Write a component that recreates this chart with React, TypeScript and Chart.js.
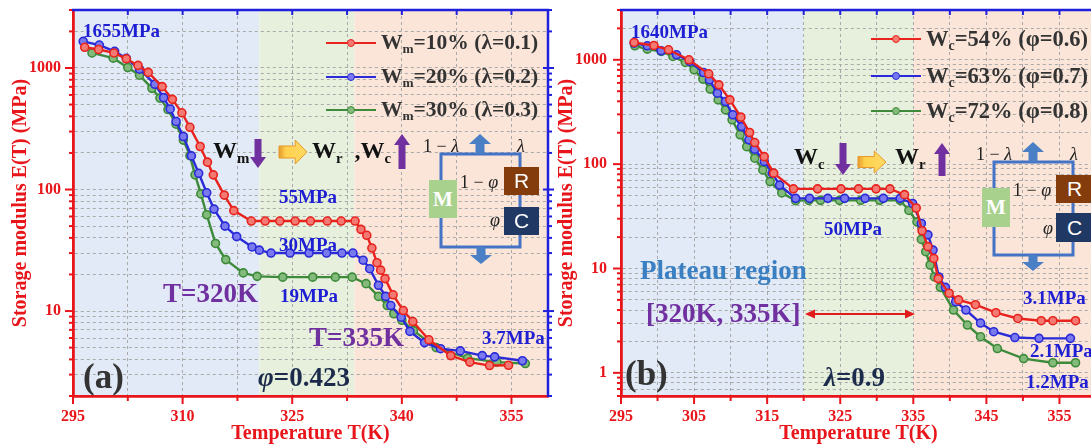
import React, { useEffect, useRef } from "react";
import { Chart, registerables } from "chart.js";
Chart.register(...registerables);

// ---------------- data: panel (a) ----------------
const T_A10 = [296.6, 298.5, 300.6, 302.3, 303.9, 305.3, 307.2, 308.6, 309.9, 311.0, 312.4, 313.4, 314.2, 315.7, 317.0, 319.4, 321.3, 323.3, 325.4, 327.5, 329.8, 331.7, 333.6, 334.4, 335.2, 335.9, 336.6, 337.1, 337.7, 338.8, 340.2, 341.5, 343.7, 346.7, 349.3, 352.0, 354.6];
const E_A10 = [1480, 1420, 1330, 1190, 1050, 920, 703, 552, 428, 325, 226, 168, 132, 90, 67, 55, 55, 55, 55, 55, 55, 55, 55, 47, 42, 33, 25, 21.7, 18.5, 13.6, 10.1, 8.2, 5.8, 4.3, 3.8, 3.56, 3.58];
const T_A20 = [296.4, 298.6, 300.7, 302.3, 304.1, 306.2, 307.4, 308.3, 309.1, 310.1, 311.2, 312.2, 313.3, 314.3, 315.8, 317.4, 319.5, 320.5, 322.1, 324.7, 327.3, 329.7, 331.8, 333.3, 334.7, 335.6, 336.8, 337.8, 338.5, 339.9, 341.1, 343.1, 345.3, 348.0, 351.0, 352.7, 356.5];
const E_A20 = [1655, 1544, 1370, 1199, 977, 735, 570, 460, 363, 273, 189, 136, 94, 69, 50, 41, 33.7, 31.7, 30, 30, 30, 30, 30, 30, 26.2, 22.3, 16.3, 13.2, 11.1, 8.9, 6.8, 5.5, 4.9, 4.7, 4.3, 4.2, 3.9];
const T_A30 = [297.6, 300.5, 302.5, 304.1, 305.8, 306.9, 308.0, 309.1, 310.1, 311.0, 311.7, 312.5, 313.3, 314.5, 315.9, 318.3, 320.2, 323.7, 327.8, 330.9, 333.2, 335.1, 336.8, 338.0, 338.9, 340.0, 341.6, 344.7, 349.0, 353.0, 356.9];
const E_A30 = [1330, 1205, 1009, 872, 680, 565, 455, 345, 255, 190, 132, 92, 62, 36, 26.5, 20.6, 19.3, 19, 19, 19, 19, 16.8, 13.2, 11.1, 9.5, 8.4, 6.9, 5.0, 4.1, 3.8, 3.7];

// ---------------- data: panel (b) ----------------
const T_B54 = [296.8, 299.5, 301.5, 304.3, 307.0, 308.4, 309.9, 311.4, 312.6, 313.3, 314.6, 315.9, 318.6, 321.9, 325.1, 327.5, 329.9, 331.8, 333.8, 335.4, 336.2, 337.0, 337.8, 338.4, 339.9, 341.2, 343.5, 346.3, 349.3, 352.5, 354.1, 357.2];
const E_B54 = [1466, 1372, 1247, 1000, 734, 575, 413, 282, 201, 161, 118, 82, 58, 58, 58, 58, 58, 58, 51, 38, 23, 16.2, 12.5, 8.0, 5.8, 5.0, 4.5, 3.77, 3.32, 3.16, 3.16, 3.16];
const T_B63 = [296.8, 298.6, 300.5, 302.6, 304.4, 306.3, 307.1, 308.2, 309.3, 310.3, 311.5, 312.5, 313.3, 314.6, 315.7, 316.7, 318.9, 320.8, 323.3, 325.6, 328.4, 330.9, 333.2, 334.9, 336.1, 337.0, 337.7, 338.5, 339.4, 340.8, 342.2, 344.2, 346.0, 348.9, 352.2, 356.5];
const E_B63 = [1445, 1361, 1219, 1117, 964, 755, 643, 479, 398, 297, 229, 171, 139, 106, 82, 63, 47, 47, 47, 47, 47, 47, 47, 42, 27, 21, 15, 8.3, 6.6, 4.8, 4.0, 3.0, 2.48, 2.18, 2.14, 2.14];
const T_B72 = [296.9, 298.6, 300.5, 302.1, 303.8, 305.0, 306.2, 307.2, 308.3, 309.3, 310.2, 311.3, 312.2, 313.3, 314.4, 315.4, 317.0, 318.9, 320.7, 322.3, 324.9, 327.8, 330.4, 333.2, 334.4, 335.5, 336.1, 336.7, 337.3, 337.9, 338.7, 340.5, 342.4, 344.2, 346.5, 350.1, 354.1, 357.2];
const E_B72 = [1362, 1265, 1202, 1077, 943, 801, 653, 524, 413, 331, 266, 191, 147, 114, 88, 68, 53, 44.7, 45, 45, 45, 45, 45, 45, 36, 28, 19, 14.5, 10.8, 8.3, 6.6, 4.0, 2.87, 2.22, 1.71, 1.37, 1.25, 1.25];

// ---------------- ticks ----------------
const X_GRID_A = [295, 302.5, 310, 317.5, 325, 332.5, 340, 347.5, 355];
const X_LABELS_A = [295, 310, 325, 340, 355];
const X_GRID_B = [295, 300, 305, 310, 315, 320, 325, 330, 335, 340, 345, 350, 355];
const X_LABELS_B = [295, 305, 315, 325, 335, 345, 355];
const Y_TICKS_A = [2, 3, 4, 5, 6, 7, 8, 9, 10, 20, 30, 40, 50, 60, 70, 80, 90, 100, 200, 300, 400, 500, 600, 700, 800, 900, 1000, 2000, 3000];
const Y_LABELS_A = [10, 100, 1000];
const Y_TICKS_B = [0.6, 0.7, 0.8, 0.9, 1, 2, 3, 4, 5, 6, 7, 8, 9, 10, 20, 30, 40, 50, 60, 70, 80, 90, 100, 200, 300, 400, 500, 600, 700, 800, 900, 1000, 2000, 3000];
const Y_LABELS_B = [1, 10, 100, 1000];
const BANDS_A = [320.5, 333.5];
const BANDS_B = [320, 335];

const SERIF = '"Liberation Serif", "Times New Roman", serif';
const SANS = '"Liberation Sans", Arial, sans-serif';
const RED_AX = "#e8161b";
const BLUE_AX = "#2020dc";
const C_RED = "#e8231e";
const C_BLUE = "#2a2ad8";
const C_GREEN = "#3d8b3a";
const F_RED = "#f27a72";
const F_BLUE = "#7a7aee";
const F_GREEN = "#84bb7c";
const LBL_BLUE = "#1e1ed2";
const PURPLE = "#7030a0";
const NAVY = "#1c2b4c";

const near = (arr: number[], v: number) => arr.some((a) => Math.abs(a - v) <= Math.abs(a) * 1e-6 + 1e-9);

type Panel = {
  series: { t: number[]; e: number[]; color: string; fill: string }[];
  xGrid: number[];
  xLabels: number[];
  yTicks: number[];
  yLabels: number[];
  yMin: number;
  yMax: number;
  bands: number[];
  yWidth: number;
  padRight: number;
  yPad: number;
};

function makeDeco(p: Panel) {
  return {
    id: "deco",
    beforeDraw(chart: any) {
      const { ctx, chartArea: ca, scales } = chart;
      const x = scales.x;
      const p1 = x.getPixelForValue(p.bands[0]);
      const p2 = x.getPixelForValue(p.bands[1]);
      const h = ca.bottom - ca.top;
      ctx.save();
      ctx.fillStyle = "#e1eaf6";
      ctx.fillRect(ca.left, ca.top, p1 - ca.left, h);
      ctx.fillStyle = "#e6f0dc";
      ctx.fillRect(p1, ca.top, p2 - p1, h);
      ctx.fillStyle = "#fbe5d9";
      ctx.fillRect(p2, ca.top, ca.right - p2, h);
      ctx.restore();
    },
    afterDraw(chart: any) {
      const { ctx, chartArea: ca, scales } = chart;
      const x = scales.x;
      const y = scales.y;
      const line = (a: number, b: number, c: number, d: number) => {
        ctx.beginPath();
        ctx.moveTo(a, b);
        ctx.lineTo(c, d);
        ctx.stroke();
      };
      ctx.save();
      ctx.strokeStyle = RED_AX;
      ctx.lineWidth = 2;
      for (const v of p.xGrid) {
        const px = x.getPixelForValue(v);
        line(px, ca.bottom, px, ca.bottom + (near(p.xLabels, v) ? 8 : 5));
      }
      for (const v of p.yTicks) {
        const py = y.getPixelForValue(v);
        line(ca.left - (near(p.yLabels, v) ? 8 : 4), py, ca.left, py);
      }
      ctx.strokeStyle = BLUE_AX;
      ctx.lineWidth = 2.5;
      line(ca.left - 1, ca.top, ca.right + 1, ca.top);
      line(ca.right, ca.top, ca.right, ca.bottom + 1);
      ctx.lineWidth = 2;
      for (const v of p.xGrid) {
        if (v === p.xGrid[0]) continue;
        const px = x.getPixelForValue(v);
        line(px, ca.top, px, ca.top + 5);
      }
      for (const v of p.yTicks) {
        const py = y.getPixelForValue(v);
        if (near(p.yLabels, v)) line(ca.right - 5, py, ca.right + 6, py);
        else line(ca.right, py, ca.right + 4, py);
      }
      ctx.restore();
    },
  };
}

function buildConfig(p: Panel): any {
  const tickFont = { family: SERIF, size: 16, weight: "bold" as const };
  const titleFont = { family: SERIF, size: 20, weight: "bold" as const };
  const noPad = (s: any) => {
    s.paddingTop = 0;
    s.paddingBottom = 0;
    s.paddingLeft = 0;
    s.paddingRight = 0;
  };
  return {
    type: "line",
    data: {
      datasets: p.series.map((s) => ({
        data: s.t.map((t, i) => ({ x: t, y: s.e[i] })),
        borderColor: s.color,
        backgroundColor: s.fill,
        pointBackgroundColor: s.fill,
        pointBorderColor: s.color,
        pointRadius: 4,
        pointBorderWidth: 1.6,
        borderWidth: 2.4,
        tension: 0,
        fill: false,
      })),
    },
    plugins: [makeDeco(p)],
    options: {
      animation: false,
      responsive: false,
      maintainAspectRatio: false,
      devicePixelRatio: 1,
      layout: { autoPadding: false, padding: { left: 0, right: p.padRight, top: 10, bottom: 0 } },
      plugins: { legend: { display: false }, tooltip: { enabled: false } },
      scales: {
        x: {
          type: "linear",
          min: 295,
          max: 360,
          position: "bottom",
          afterBuildTicks: (s: any) => {
            s.ticks = p.xGrid.map((v) => ({ value: v }));
          },
          afterFit: (s: any) => {
            s.height = 52;
            noPad(s);
          },
          ticks: {
            autoSkip: false,
            maxRotation: 0,
            callback: (v: number) => (near(p.xLabels, v) ? String(v) : ""),
            color: RED_AX,
            font: tickFont,
            padding: 11,
          },
          grid: { color: "#a9a9a9", lineWidth: 1, drawTicks: false },
          border: { display: true, color: RED_AX, width: 2.8, dash: [3, 3] },
          title: {
            display: true,
            text: "Temperature T(K)",
            color: RED_AX,
            font: titleFont,
            padding: { top: 0, bottom: 2 },
          },
        },
        y: {
          type: "logarithmic",
          min: p.yMin,
          max: p.yMax,
          position: "left",
          afterBuildTicks: (s: any) => {
            s.ticks = p.yTicks.map((v) => ({ value: v }));
          },
          afterFit: (s: any) => {
            s.width = p.yWidth;
            noPad(s);
          },
          ticks: {
            autoSkip: false,
            callback: (v: number) => (near(p.yLabels, v) ? String(v) : ""),
            color: RED_AX,
            font: tickFont,
            padding: p.yPad,
          },
          grid: { color: "#a9a9a9", lineWidth: 1, drawTicks: false },
          border: { display: true, color: RED_AX, width: 2.8, dash: [3, 3] },
          title: {
            display: true,
            text: "Storage modulus E(T) (MPa)",
            color: RED_AX,
            font: titleFont,
            padding: { top: 9, bottom: 0 },
          },
        },
      },
    },
  };
}

const PANEL_A: Panel = {
  series: [
    { t: T_A10, e: E_A10, color: C_RED, fill: F_RED },
    { t: T_A20, e: E_A20, color: C_BLUE, fill: F_BLUE },
    { t: T_A30, e: E_A30, color: C_GREEN, fill: F_GREEN },
  ],
  xGrid: X_GRID_A,
  xLabels: X_LABELS_A,
  yTicks: Y_TICKS_A,
  yLabels: Y_LABELS_A,
  yMin: 2,
  yMax: 3000,
  bands: BANDS_A,
  yWidth: 73,
  padRight: 12,
  yPad: 12,
};
const PANEL_B: Panel = {
  series: [
    { t: T_B54, e: E_B54, color: C_RED, fill: F_RED },
    { t: T_B63, e: E_B63, color: C_BLUE, fill: F_BLUE },
    { t: T_B72, e: E_B72, color: C_GREEN, fill: F_GREEN },
  ],
  xGrid: X_GRID_B,
  xLabels: X_LABELS_B,
  yTicks: Y_TICKS_B,
  yLabels: Y_LABELS_B,
  yMin: 0.6,
  yMax: 3000,
  bands: BANDS_B,
  yWidth: 75,
  padRight: 10,
  yPad: 14,
};

// ---------------- overlay helpers ----------------
const Txt = (props: {
  x: number;
  y: number;
  size: number;
  color: string;
  bold?: boolean;
  italic?: boolean;
  family?: string;
  center?: boolean;
  children: React.ReactNode;
}) => (
  <div
    style={{
      position: "absolute",
      left: props.x,
      top: props.y,
      transform: `translate(${props.center ? "-50%" : "0"}, -50%)`,
      fontFamily: props.family || SERIF,
      fontSize: props.size,
      fontWeight: props.bold === false ? "normal" : "bold",
      fontStyle: props.italic ? "italic" : "normal",
      color: props.color,
      whiteSpace: "nowrap",
      lineHeight: 1,
    }}
  >
    {props.children}
  </div>
);

const Sub = ({ children }: { children: React.ReactNode }) => (
  <span style={{ fontSize: "0.62em", position: "relative", top: "0.32em" }}>{children}</span>
);

const LegendRow = (props: { x: number; y: number; color: string; fill: string; size: number; children: React.ReactNode }) => (
  <>
    <div style={{ position: "absolute", left: props.x, top: props.y - 1.2, width: 50, height: 2.4, background: props.color }} />
    <div
      style={{
        position: "absolute",
        left: props.x + 21,
        top: props.y - 4,
        width: 8,
        height: 8,
        borderRadius: "50%",
        boxSizing: "border-box",
        border: `1.6px solid ${props.color}`,
        background: props.fill,
      }}
    />
    <Txt x={props.x + 55} y={props.y} size={props.size} color="#333333">
      {props.children}
    </Txt>
  </>
);

const Box = (props: { x: number; y: number; w: number; h: number; bg: string; family: string; bold: boolean; children: React.ReactNode }) => (
  <div
    style={{
      position: "absolute",
      left: props.x,
      top: props.y,
      width: props.w,
      height: props.h,
      background: props.bg,
      color: "#ffffff",
      fontFamily: props.family,
      fontWeight: props.bold ? "bold" : "normal",
      fontSize: 21,
      display: "flex",
      alignItems: "center",
      justifyContent: "center",
    }}
  >
    {props.children}
  </div>
);

const vArrow = (x: number, yTail: number, yHead: number, shaft: number, head: number, headLen: number) => {
  const dir = yHead > yTail ? 1 : -1;
  const yb = yHead - dir * headLen;
  return [
    [x - shaft / 2, yTail],
    [x + shaft / 2, yTail],
    [x + shaft / 2, yb],
    [x + head / 2, yb],
    [x, yHead],
    [x - head / 2, yb],
    [x - shaft / 2, yb],
  ]
    .map((p) => p.join(","))
    .join(" ");
};

const yellowArrow = (x0: number, yc: number, w: number, h: number) => {
  const xb = x0 + w * 0.58;
  return [
    [x0, yc - h * 0.25],
    [xb, yc - h * 0.25],
    [xb, yc - h / 2],
    [x0 + w, yc],
    [xb, yc + h / 2],
    [xb, yc + h * 0.25],
    [x0, yc + h * 0.25],
  ]
    .map((p) => p.join(","))
    .join(" ");
};

const Schematic = ({ x, y }: { x: number; y: number }) => {
  // x,y = top-left of the blue frame
  return (
    <>
      <Txt x={x - 18} y={y - 8} size={18} color="#222" bold={false}>
        1 − <i>λ</i>
      </Txt>
      <Txt x={x + 76} y={y - 8} size={18} color="#222" bold={false} italic>
        λ
      </Txt>
      <Txt x={x + 19} y={y + 28} size={18} color="#222" bold={false}>
        1 − <i>φ</i>
      </Txt>
      <Txt x={x + 49} y={y + 66} size={18} color="#222" bold={false} italic>
        φ
      </Txt>
    </>
  );
};

export default function App() {
  const refA = useRef<HTMLCanvasElement | null>(null);
  const refB = useRef<HTMLCanvasElement | null>(null);

  useEffect(() => {
    const a = new Chart(refA.current as HTMLCanvasElement, buildConfig(PANEL_A));
    const b = new Chart(refB.current as HTMLCanvasElement, buildConfig(PANEL_B));
    return () => {
      a.destroy();
      b.destroy();
    };
  }, []);

  const svgShapes = (
    <svg width={1091} height={448} style={{ position: "absolute", left: 0, top: 0 }}>
      <defs>
        <linearGradient id="yg" x1="0" x2="1" y1="0" y2="0">
          <stop offset="0" stopColor="#e59a2c" />
          <stop offset="0.25" stopColor="#ffd24d" />
          <stop offset="1" stopColor="#ffd966" />
        </linearGradient>
      </defs>
      {/* panel a arrows */}
      <polygon points={vArrow(258, 139, 168, 7, 16, 11)} fill={PURPLE} />
      <polygon points={yellowArrow(279, 152, 28, 24)} fill="url(#yg)" stroke="#e8982c" strokeWidth={1} />
      <polygon points={vArrow(402, 169, 134, 7, 16, 11)} fill={PURPLE} />
      {/* panel a schematic */}
      <rect x={441} y={154} width={79} height={93} fill="none" stroke="#4472c4" strokeWidth={3} />
      <polygon points={vArrow(480, 154, 134, 9, 22, 10)} fill="#4a7fc6" />
      <polygon points={vArrow(481, 247, 264, 9, 22, 9)} fill="#4a7fc6" />
      {/* panel b arrows */}
      <polygon points={vArrow(843, 143, 175, 7, 16, 11)} fill={PURPLE} />
      <polygon points={yellowArrow(858, 162, 28, 22)} fill="url(#yg)" stroke="#e8982c" strokeWidth={1} />
      <polygon points={vArrow(942, 176, 143, 7, 16, 11)} fill={PURPLE} />
      {/* panel b schematic */}
      <rect x={994} y={162} width={79} height={93} fill="none" stroke="#4472c4" strokeWidth={3} />
      <polygon points={vArrow(1033, 162, 142, 9, 22, 10)} fill="#4a7fc6" />
      <polygon points={vArrow(1033, 255, 271, 9, 22, 9)} fill="#4a7fc6" />
      {/* red double arrow */}
      <line x1={812} y1={314} x2={908} y2={314} stroke="#e31a1c" strokeWidth={2} />
      <polygon points="805,314 815,309.5 815,318.5" fill="#e31a1c" />
      <polygon points="915,314 905,309.5 905,318.5" fill="#e31a1c" />
    </svg>
  );

  return (
    <div style={{ position: "absolute", left: 0, top: 0, width: 1091, height: 448, overflow: "hidden", background: "#ffffff" }}>
      <canvas ref={refA} width={560} height={448} style={{ position: "absolute", left: 0, top: 0, width: 560, height: 448 }} />
      <canvas ref={refB} width={560} height={448} style={{ position: "absolute", left: 546, top: 0, width: 560, height: 448 }} />
      {svgShapes}

      {/* panel a texts */}
      <Txt x={83} y={30} size={19} color={LBL_BLUE}>1655MPa</Txt>
      <LegendRow x={326} y={43} size={21.5} color={C_RED} fill={F_RED}>
        W<Sub>m</Sub>=10% (λ=0.1)
      </LegendRow>
      <LegendRow x={326} y={77} size={21.5} color={C_BLUE} fill={F_BLUE}>
        W<Sub>m</Sub>=20% (λ=0.2)
      </LegendRow>
      <LegendRow x={326} y={110} size={21.5} color={C_GREEN} fill={F_GREEN}>
        W<Sub>m</Sub>=30% (λ=0.3)
      </LegendRow>
      <Txt x={213} y={150} size={24} color="#111">
        W<Sub>m</Sub>
      </Txt>
      <Txt x={312} y={150} size={24} color="#111">
        W<Sub>r</Sub>&nbsp;&nbsp;,W<Sub>c</Sub>
      </Txt>
      <Box x={429} y={180} w={28} h={38} bg="#a9d18e" family={SERIF} bold>M</Box>
      <Box x={504} y={167} w={35} h={28} bg="#843c0c" family={SANS} bold={false}>R</Box>
      <Box x={504} y={207} w={35} h={28} bg="#1f3864" family={SANS} bold={false}>C</Box>
      <Schematic x={441} y={154} />
      <Txt x={279} y={196} size={19} color={LBL_BLUE}>55MPa</Txt>
      <Txt x={279} y={244} size={19} color={LBL_BLUE}>30MPa</Txt>
      <Txt x={280} y={295} size={19} color={LBL_BLUE}>19MPa</Txt>
      <Txt x={482} y={337} size={19} color={LBL_BLUE}>3.7MPa</Txt>
      <Txt x={163} y={293} size={27} color={PURPLE}>T=320K</Txt>
      <Txt x={309} y={337} size={27} color={PURPLE}>T=335K</Txt>
      <Txt x={83} y={376} size={35} color="#333333">(a)</Txt>
      <Txt x={258} y={377} size={27} color={NAVY}>
        <i>φ</i>=0.423
      </Txt>

      {/* panel b texts */}
      <Txt x={631} y={31} size={19} color={LBL_BLUE}>1640MPa</Txt>
      <LegendRow x={871} y={39} size={22.5} color={C_RED} fill={F_RED}>
        W<Sub>c</Sub>=54% (φ=0.6)
      </LegendRow>
      <LegendRow x={871} y={76} size={22.5} color={C_BLUE} fill={F_BLUE}>
        W<Sub>c</Sub>=63% (φ=0.7)
      </LegendRow>
      <LegendRow x={871} y={111} size={22.5} color={C_GREEN} fill={F_GREEN}>
        W<Sub>c</Sub>=72% (φ=0.8)
      </LegendRow>
      <Txt x={794} y={156} size={24} color="#111">
        W<Sub>c</Sub>
      </Txt>
      <Txt x={895} y={156} size={24} color="#111">
        W<Sub>r</Sub>
      </Txt>
      <Box x={982} y={188} w={28} h={39} bg="#a9d18e" family={SERIF} bold>M</Box>
      <Box x={1056} y={175} w={37} h={28} bg="#843c0c" family={SANS} bold={false}>R</Box>
      <Box x={1056} y={213} w={37} h={29} bg="#1f3864" family={SANS} bold={false}>C</Box>
      <Schematic x={994} y={162} />
      <Txt x={824} y={228} size={19} color={LBL_BLUE}>50MPa</Txt>
      <Txt x={1023} y={297} size={19} color={LBL_BLUE}>3.1MPa</Txt>
      <Txt x={1030} y={350} size={19} color={LBL_BLUE}>2.1MPa</Txt>
      <Txt x={1026} y={381} size={19} color={LBL_BLUE}>1.2MPa</Txt>
      <Txt x={640} y={270} size={27} color="#3a7fc1">Plateau region</Txt>
      <Txt x={646} y={313} size={27} color={PURPLE}>[320K, 335K]</Txt>
      <Txt x={625} y={373} size={35} color="#333333">(b)</Txt>
      <Txt x={824} y={377} size={27} color={NAVY}>
        <i>λ</i>=0.9
      </Txt>
    </div>
  );
}
